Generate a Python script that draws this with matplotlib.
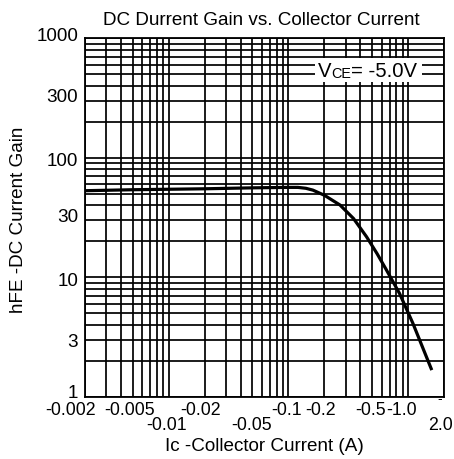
import numpy as np
import matplotlib
matplotlib.use("Agg")
import matplotlib.pyplot as plt
from matplotlib.ticker import LogLocator, FixedLocator, NullFormatter
from matplotlib.transforms import offset_copy
from matplotlib.patches import Rectangle

plt.rcParams['font.family'] = ['Liberation Sans', 'DejaVu Sans']

# hFE vs Ic curve (Ic magnitude in A)
ic = [0.002, 0.005, 0.01, 0.02, 0.05, 0.1, 0.12, 0.14, 0.16, 0.2, 0.27,
      0.35, 0.45, 0.55, 0.66, 0.85, 1.1, 1.58]
hfe = [53, 54, 54.5, 55, 56, 56.5, 56.5, 55.5, 53.6, 48.5, 40.2,
       31, 21.8, 15.8, 11.5, 7.3, 4.1, 1.67]

x_ticks = [0.002, 0.005, 0.01, 0.02, 0.05, 0.1, 0.2, 0.5, 1.0, 2.0]
x_labels = ['-0.002', '-0.005', '-0.01', '-0.02', '-0.05', '-0.1', '-0.2',
            '-0.5', '-1.0', '2.0']
y_ticks = [1, 3, 10, 30, 100, 300, 1000]
y_labels = ['1', '3', '10', '30', '100', '300', '1000']

# label layout quirks of the original (pixels)
label_row = [0, 0, 1, 0, 1, 0, 0, 0, 0, 1]
label_dx = [-15, -3, -2, -4, -1, -2, -4, -1, -6, -4]
row_y = [-0.038, -0.079]
ylab_dy = [3, -3, -4, 3, -4, 3, 2]

FS = 13.6
FS_X = 12.8

fig = plt.figure(figsize=(4.54, 4.59), dpi=100)
ax = fig.add_axes([0.188, 0.1357, 0.790, 0.7809])

ax.plot(ic, hfe, color='black', lw=2.3, zorder=2, solid_capstyle='butt')

ax.set_xscale('log')
ax.set_yscale('log')
ax.set_xlim(0.002, 2.0)
ax.set_ylim(1, 1000)

ax.xaxis.set_major_locator(FixedLocator(x_ticks))
ax.xaxis.set_minor_locator(LogLocator(base=10, subs=np.arange(2, 10)))
ax.yaxis.set_major_locator(FixedLocator(y_ticks))
ax.yaxis.set_minor_locator(LogLocator(base=10, subs=np.arange(2, 10)))
for axis in (ax.xaxis, ax.yaxis):
    axis.set_major_formatter(NullFormatter())
    axis.set_minor_formatter(NullFormatter())

ax.grid(which='both', color='black', lw=1.25)
ax.tick_params(which='both', length=0)
for sp in ax.spines.values():
    sp.set_linewidth(1.3)

# x tick labels, drawn as text so some can sit on a lower row
for val, lab, row, dx in zip(x_ticks, x_labels, label_row, label_dx):
    tr = offset_copy(ax.get_xaxis_transform(), fig=fig, x=dx, y=0, units='dots')
    ax.text(val, row_y[row], lab, transform=tr, ha='center', va='center',
            fontsize=FS_X, clip_on=False)
# stray minus sign above the "2.0" label
tr = offset_copy(ax.get_xaxis_transform(), fig=fig, x=-4, y=0, units='dots')
ax.text(2.0, -0.006, '-', transform=tr, ha='center', va='center',
        fontsize=10, clip_on=False)

# y tick labels
for val, lab, dy in zip(y_ticks, y_labels, ylab_dy):
    tr = offset_copy(ax.get_yaxis_transform(), fig=fig, x=-7, y=dy, units='dots')
    ax.text(0, val, lab, transform=tr, ha='right', va='center',
            fontsize=FS, clip_on=False)

# VCE condition box
ax.add_patch(Rectangle((0.640, 0.878), 0.299, 0.067, transform=ax.transAxes,
                       facecolor='white', edgecolor='none', zorder=3))
t1 = ax.text(0.648, 0.893, 'V', transform=ax.transAxes, fontsize=14.6,
             va='baseline', ha='left', zorder=4)
t2 = ax.annotate('CE', xy=(1, 0), xycoords=t1, fontsize=10.4,
                 va='bottom', ha='left', zorder=4)
ax.annotate('= -5.0V', xy=(1, 0), xycoords=t2, fontsize=14.6,
            va='bottom', ha='left', zorder=4)

ax.set_xlabel('Ic -Collector Current (A)', fontsize=FS, va='center')
ax.xaxis.set_label_coords(0.5, -0.1395)
ax.set_ylabel('hFE -DC Current Gain', fontsize=FS, va='center')
ax.yaxis.set_label_coords(-0.185, 0.493)

fig.text(0.575, 1 - 20.7 / 459, 'DC Durrent Gain vs. Collector Current',
         ha='center', va='center', fontsize=FS)

fig.savefig('out.png', dpi=100)
